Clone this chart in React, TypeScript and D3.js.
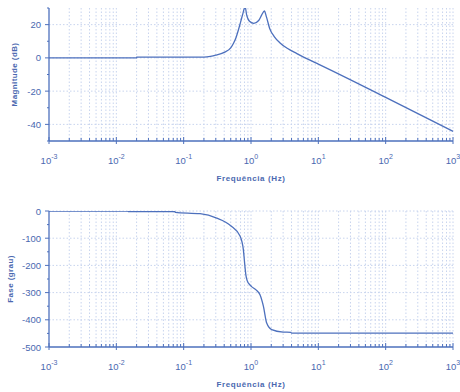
import React from "react";
import * as d3 from "d3";

const magFreq = [0.001, 0.0199, 0.02, 0.1, 0.2, 0.25, 0.3, 0.4, 0.5, 0.55, 0.6, 0.65, 0.7, 0.75, 0.8, 0.82, 0.86, 0.95, 1.1, 1.3, 1.45, 1.58, 1.7, 1.9, 2.2, 2.7, 3.5, 4.8, 7.5, 10, 100, 1000];
const magDb = [0, 0, 0.4, 0.4, 0.5, 0.9, 1.6, 3.3, 6, 8.8, 12.3, 16.8, 21.5, 26, 30, 30.5, 26, 22, 20.8, 22.5, 26, 28.2, 24.5, 17.5, 13, 9, 5.6, 2.6, -1.4, -3.8, -23.8, -44.2];

const phaseFreq = [0.001, 0.0148, 0.015, 0.074, 0.075, 0.175, 0.31, 0.5, 0.69, 0.77, 0.81, 0.84, 0.88, 0.95, 1.02, 1.2, 1.36, 1.53, 1.71, 2.03, 3.0, 3.9, 4.0, 1000];
const phaseDeg = [0, 0, -2, -2, -5, -10, -26, -54, -93, -142, -200, -236, -257, -270, -278, -291, -308, -351, -412, -436, -445, -446, -449, -449];

const decades = [-3, -2, -1, 0, 1, 2, 3];
const magTicks = [20, 0, -20, -40];
const magMinor = [30, 10, -10, -30, -50];
const phaseTicks = [0, -100, -200, -300, -400, -500];
const phaseMinor = [-50, -150, -250, -350, -450];

const BLUE = "#4d70bd";
const TEXT = "#4a68b0";
const GRID = "#c8d4ee";

const x = d3.scaleLog().domain([1e-3, 1e3]).range([49, 453]);
const minorX: number[] = [];
for (let e = -3; e < 3; e++) for (let m = 2; m <= 9; m++) minorX.push(m * Math.pow(10, e));

function Panel({ top, bottom, domain, ticks, minor, freq, vals, ylabel, ylabelX, tickY, titleY, clipId }: any) {
  const y = d3.scaleLinear().domain(domain).range([bottom, top]);
  const line = d3.line<number>().x((_, i) => x(freq[i])).y((d) => y(d)).curve(d3.curveMonotoneX);
  const left = x.range()[0];
  const right = x.range()[1];
  return (
    <g>
      <defs>
        <clipPath id={clipId}>
          <rect x={left} y={top} width={right - left + 2} height={bottom - top} />
        </clipPath>
      </defs>
      {minorX.concat(decades.slice(1).map((e) => Math.pow(10, e))).map((f, i) => (
        <line key={"gx" + i} x1={x(f)} x2={x(f)} y1={top} y2={bottom} stroke={GRID} strokeWidth={1} strokeDasharray="1.5,2" />
      ))}
      {ticks.filter((t: number) => t !== domain[0]).map((t: number) => (
        <line key={"gy" + t} x1={left} x2={right} y1={y(t)} y2={y(t)} stroke={GRID} strokeWidth={1} strokeDasharray="1.5,2" />
      ))}
      <path d={line(vals) || ""} fill="none" stroke={BLUE} strokeWidth={1.3} clipPath={`url(#${clipId})`} />
      <line x1={left} x2={left} y1={top} y2={bottom} stroke={BLUE} strokeWidth={1.3} />
      <line x1={left} x2={right} y1={bottom} y2={bottom} stroke={BLUE} strokeWidth={1.5} />
      {ticks.map((t: number) => (
        <g key={"ty" + t}>
          <line x1={left - 4} x2={left} y1={y(t)} y2={y(t)} stroke={BLUE} strokeWidth={1} />
          <text x={left - 8} y={y(t) + 3.5} fontSize={9.5} fill={TEXT} textAnchor="end" fontFamily="Liberation Sans, Arial, sans-serif">{String(t)}</text>
        </g>
      ))}
      {minor.map((t: number) => (
        <line key={"my" + t} x1={left - 2} x2={left} y1={y(t)} y2={y(t)} stroke={BLUE} strokeWidth={1} />
      ))}
      {minorX.map((f, i) => (
        <line key={"mx" + i} x1={x(f)} x2={x(f)} y1={bottom - 3} y2={bottom} stroke={BLUE} strokeWidth={1} />
      ))}
      {decades.map((e) => (
        <g key={"tx" + e}>
          <line x1={x(Math.pow(10, e))} x2={x(Math.pow(10, e))} y1={bottom - 4} y2={bottom + 3} stroke={BLUE} strokeWidth={1} />
          <text x={x(Math.pow(10, e))} y={tickY} fontSize={9.5} fill={TEXT} textAnchor="middle" fontFamily="Liberation Sans, Arial, sans-serif">
            10<tspan dy={-5} fontSize={7}>{String(e)}</tspan>
          </text>
        </g>
      ))}
      <text x={(left + right) / 2} y={titleY} fontSize={8} fontWeight="bold" fill={TEXT} textAnchor="middle" letterSpacing={0.6} fontFamily="Liberation Sans, Arial, sans-serif">Frequência (Hz)</text>
      <text transform={`translate(${ylabelX},${(top + bottom) / 2}) rotate(-90)`} fontSize={8} fontWeight="bold" fill={TEXT} textAnchor="middle" letterSpacing={0.4} fontFamily="Liberation Sans, Arial, sans-serif">{ylabel}</text>
    </g>
  );
}

export default function App() {
  return (
    <svg width={460} height={392} style={{ position: "absolute", left: 0, top: 0, background: "#fff" }}>
      <Panel top={8} bottom={141} domain={[-50, 30]} ticks={magTicks} minor={magMinor} freq={magFreq} vals={magDb} ylabel="Magnitude (dB)" ylabelX={17} tickY={164} titleY={181} clipId="c1" />
      <Panel top={211} bottom={347} domain={[-500, 0]} ticks={phaseTicks} minor={phaseMinor} freq={phaseFreq} vals={phaseDeg} ylabel="Fase (grau)" ylabelX={13} tickY={370} titleY={387} clipId="c2" />
    </svg>
  );
}
